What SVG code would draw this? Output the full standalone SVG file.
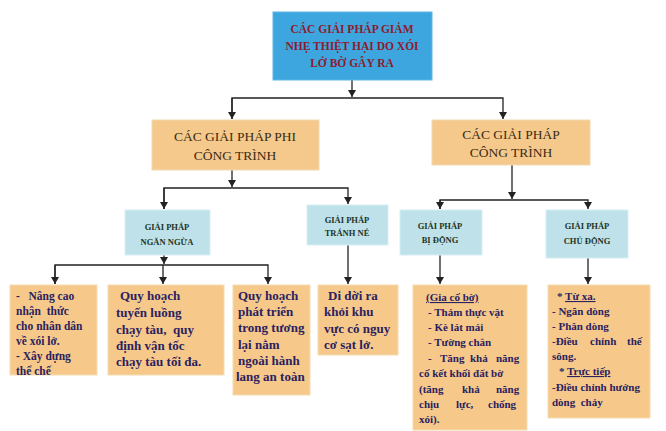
<svg xmlns="http://www.w3.org/2000/svg" width="666" height="431" viewBox="0 0 666 431">
<style>
.bg{fill:#ffffff}
.top{fill:#3ea6df;stroke:#5bb6e6;stroke-width:1}
.l2{fill:#f5c98c;stroke:#f0d9b0;stroke-width:1}
.l3{fill:#bfe2ea;stroke:#d6eef3;stroke-width:1}
.leaf{fill:#f6c98a;stroke:#f3dcb2;stroke-width:1}
.tt{font-family:"Liberation Serif",serif;font-weight:bold;font-size:11.5px;fill:#8c1c2e;text-anchor:middle}
.t2{font-family:"Liberation Serif",serif;font-size:13.5px;fill:#3a2c12;text-anchor:middle}
.t3{font-family:"Liberation Serif",serif;font-weight:bold;font-size:8.5px;fill:#1e3424;text-anchor:middle}
.tl{font-family:"Liberation Serif",serif;font-weight:bold;font-size:11px;fill:#2b2160}
.t1{font-family:"Liberation Serif",serif;font-weight:bold;font-size:11.5px;fill:#2b2160}
.tb{font-family:"Liberation Serif",serif;font-weight:bold;font-size:13px;fill:#2b2160}
.conn line,.conn polyline{stroke:#222;stroke-width:1.3;fill:none}
</style>
<defs>
<marker id="ah" markerWidth="7" markerHeight="8" refX="7" refY="4" orient="auto" markerUnits="userSpaceOnUse">
<path d="M0,0 L7,4 L0,8 z" fill="#222"/>
</marker>
</defs>
<rect class="bg" x="0" y="0" width="666" height="431"/>

<g class="conn">
<line x1="352" y1="80" x2="352" y2="97" marker-end="url(#ah)"/>
<polyline points="232,119 232,98 503,98 503,119" marker-end="url(#ah)"/>
<line x1="232" y1="98" x2="232" y2="119" marker-end="url(#ah)"/>
<line x1="232" y1="170" x2="232" y2="187" marker-end="url(#ah)"/>
<polyline points="164,209 164,188 348,188 348,204" marker-end="url(#ah)"/>
<line x1="164" y1="188" x2="164" y2="209" marker-end="url(#ah)"/>
<line x1="512" y1="165" x2="512" y2="199" marker-end="url(#ah)"/>
<polyline points="440,209 440,200 588,200 588,209" marker-end="url(#ah)"/>
<line x1="440" y1="200" x2="440" y2="209" marker-end="url(#ah)"/>
<line x1="164" y1="255" x2="164" y2="264" marker-end="url(#ah)"/>
<polyline points="55,284 55,265 268,265 268,284" marker-end="url(#ah)"/>
<line x1="55" y1="265" x2="55" y2="284" marker-end="url(#ah)"/>
<line x1="163" y1="265" x2="163" y2="284" marker-end="url(#ah)"/>
<line x1="348" y1="245" x2="348" y2="284" marker-end="url(#ah)"/>
<line x1="440" y1="255" x2="440" y2="284" marker-end="url(#ah)"/>
<line x1="588" y1="258" x2="588" y2="284" marker-end="url(#ah)"/>
</g>

<g id="root">
<rect class="top" x="273" y="12" width="159" height="68"/>
<text class="tt" x="352" y="33">CÁC GIẢI PHÁP GIẢM</text>
<text class="tt" x="352" y="50">NHẸ THIỆT HẠI DO XÓI</text>
<text class="tt" x="352" y="67">LỞ BỜ GÂY RA</text>
</g>

<g id="phi-cong-trinh">
<rect class="l2" x="152" y="120" width="167" height="50"/>
<text class="t2" x="235" y="141">CÁC GIẢI PHÁP PHI</text>
<text class="t2" x="235" y="160">CÔNG TRÌNH</text>
</g>

<g id="cong-trinh">
<rect class="l2" x="432" y="120" width="158" height="45"/>
<text class="t2" x="511" y="139">CÁC GIẢI PHÁP</text>
<text class="t2" x="511" y="157">CÔNG TRÌNH</text>
</g>

<g id="ngan-ngua">
<rect class="l3" x="125" y="210" width="85" height="45"/>
<text class="t3" x="167" y="230">GIẢI PHÁP</text>
<text class="t3" x="167" y="245">NGĂN NGỪA</text>
</g>

<g id="tranh-ne">
<rect class="l3" x="307" y="205" width="81" height="40"/>
<text class="t3" x="347" y="223">GIẢI PHÁP</text>
<text class="t3" x="347" y="236">TRÁNH NÉ</text>
</g>

<g id="bi-dong">
<rect class="l3" x="400" y="210" width="82" height="45"/>
<text class="t3" x="440" y="229">GIẢI PHÁP</text>
<text class="t3" x="440" y="243">BỊ ĐỘNG</text>
</g>

<g id="chu-dong">
<rect class="l3" x="546" y="210" width="82" height="48"/>
<text class="t3" x="587" y="229">GIẢI PHÁP</text>
<text class="t3" x="587" y="244">CHỦ ĐỘNG</text>
</g>

<g id="leaf1">
<rect class="leaf" x="10" y="285" width="87" height="90"/>
<text class="t1" x="16" y="300" xml:space="preserve">-   Nâng cao</text>
<text class="t1" x="16" y="315" xml:space="preserve">nhận  thức</text>
<text class="t1" x="16" y="330">cho nhân dân</text>
<text class="t1" x="16" y="345">về xói lở.</text>
<text class="t1" x="16" y="360">- Xây dựng</text>
<text class="t1" x="16" y="375">thể chế</text>
</g>

<g id="leaf2">
<rect class="leaf" x="108" y="285" width="116" height="90"/>
<text class="tb" x="120" y="300">Quy hoạch</text>
<text class="tb" x="116" y="317">tuyến luồng</text>
<text class="tb" x="116" y="334" xml:space="preserve">chạy tàu,  quy</text>
<text class="tb" x="116" y="350">định vận tốc</text>
<text class="tb" x="116" y="366">chạy tàu tối đa.</text>
</g>

<g id="leaf3">
<rect class="leaf" x="233" y="285" width="77" height="110"/>
<text class="tb" x="238" y="300">Quy hoạch</text>
<text class="tb" x="238" y="316">phát triển</text>
<text class="tb" x="238" y="332">trong tương</text>
<text class="tb" x="238" y="349">lại nằm</text>
<text class="tb" x="238" y="365">ngoài hành</text>
<text class="tb" x="236" y="381">lang an toàn</text>
</g>

<g id="leaf4">
<rect class="leaf" x="318" y="285" width="80" height="70"/>
<text class="tb" x="328" y="300">Di dời ra</text>
<text class="tb" x="324" y="316">khỏi khu</text>
<text class="tb" x="324" y="333">vực có nguy</text>
<text class="tb" x="324" y="349">cơ sạt lở.</text>
</g>

<g id="leaf5">
<rect class="leaf" x="413" y="285" width="114" height="145"/>
<text class="tl" x="426" y="301" text-decoration="underline">(Gia cố bờ)</text>
<text class="tl" x="428" y="316">- Thảm thực vật</text>
<text class="tl" x="428" y="331">- Kè lát mái</text>
<text class="tl" x="428" y="346">- Tường chắn</text>
<text class="tl" y="362"><tspan x="428">-</tspan><tspan x="440">Tăng</tspan><tspan x="470">khả</tspan><tspan x="496">năng</tspan></text>
<text class="tl" x="419" y="377">cố kết khối đất bờ</text>
<text class="tl" y="393"><tspan x="419">(tăng</tspan><tspan x="462">khả</tspan><tspan x="496">năng</tspan></text>
<text class="tl" y="408"><tspan x="419">chịu</tspan><tspan x="456">lực,</tspan><tspan x="488">chống</tspan></text>
<text class="tl" x="419" y="423">xói).</text>
</g>

<g id="leaf6">
<rect class="leaf" x="548" y="285" width="102" height="133"/>
<text class="tl" x="557" y="300">* <tspan text-decoration="underline">Từ xa.</tspan></text>
<text class="tl" x="552" y="315">- Ngăn dòng</text>
<text class="tl" x="552" y="330">- Phân dòng</text>
<text class="tl" y="345"><tspan x="552">-Điều</tspan><tspan x="590">chỉnh</tspan><tspan x="627">thế</tspan></text>
<text class="tl" x="552" y="360">sông.</text>
<text class="tl" x="559" y="375">* <tspan text-decoration="underline">Trực tiếp</tspan></text>
<text class="tl" x="552" y="391">-Điều chỉnh hướng</text>
<text class="tl" x="552" y="406" xml:space="preserve">dòng  chảy</text>
</g>
</svg>
